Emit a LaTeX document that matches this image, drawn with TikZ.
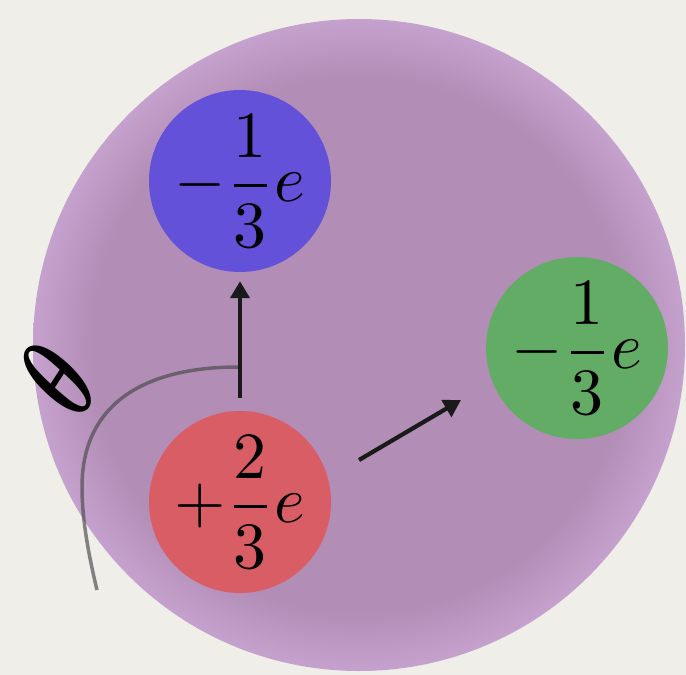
\documentclass[tikz,border=0pt]{standalone}
\usepackage{graphicx}
\usepackage{bm}
\usetikzlibrary{arrows.meta}
\definecolor{paper}{HTML}{EFEEE9}
\definecolor{pcenter}{HTML}{B28DB6}
\definecolor{pedge}{HTML}{C5A1CD}
\definecolor{qblue}{HTML}{6352D9}
\definecolor{qred}{HTML}{D95D64}
\definecolor{qgreen}{HTML}{63AC66}
\definecolor{ink}{HTML}{1A1A1A}
\definecolor{wire}{HTML}{4A4A4A}
\pgfdeclareradialshading{bag}{\pgfpoint{0bp}{0bp}}{color(0bp)=(pcenter); color(20.5bp)=(pcenter); color(25bp)=(pedge); color(50bp)=(pedge)}
\newcommand{\bigcharge}[1]{\scalebox{6.6}{$\displaystyle #1$}}
\begin{document}
\begin{tikzpicture}[x=1pt,y=-1pt,
  quark/.style={circle, minimum size=182pt, inner sep=0pt, fill=#1},
  push/.style={draw=ink, line width=4.2pt, -{Triangle[length=17pt,width=19pt]}},
  gline/.style={draw=wire, draw opacity=0.66, line width=3.5pt}
]
\useasboundingbox (0,0) rectangle (686,675);
\fill[paper] (0,0) rectangle (686,675);
\begin{scope}
  \clip (0,0) rectangle (686,675);
  \shade[shading=bag] (359,345) circle[radius=326];
\end{scope}

\node[quark=qblue, label={center:\bigcharge{-\frac{1}{3}e}}] (down) at (240,181) {};
\node[quark=qgreen, label={center:\bigcharge{-\frac{1}{3}e}}] (down2) at (577,348) {};
\node[quark=qred, label={center:\bigcharge{+\frac{2}{3}e}}] (up) at (240,502) {};

\coordinate (gs) at (97,590);
\coordinate (ge) at (238,367);
\draw[gline] (gs) .. controls (85,540) and (82,510) .. (82,487)
  .. controls (82,400) and (150,367) .. (ge);

\draw[push, shorten <=13pt, shorten >=9pt] (up) -- (down);
\coordinate (dstart) at (359,460);
\coordinate (dend) at (461,400);
\draw[push] (dstart) -- (dend);

\node[rotate=57, inner sep=0pt] (theta) at (58,379) {\scalebox{8}[11.9]{$\bm{\theta}$}};
\end{tikzpicture}
\end{document}
